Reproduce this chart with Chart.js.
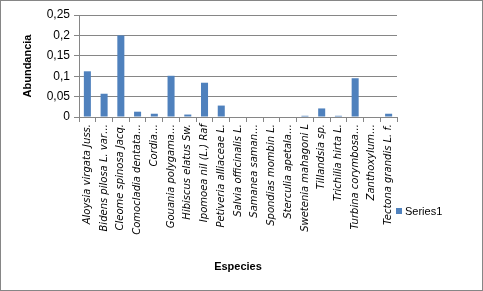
<!DOCTYPE html>
<html>
<head>
<meta charset="utf-8">
<script src="https://cdn.jsdelivr.net/npm/chart.js@4/dist/chart.umd.min.js"></script>
<style>
  html, body { margin: 0; padding: 0; background: #fff; }
  #wrap { width: 483px; height: 291px; position: relative; }
</style>
</head>
<body>
<div id="wrap"><canvas id="chart" width="483" height="291"></canvas></div>
<script>
const species = [
  "Aloysia virgata Juss.", "Bidens pilosa L. var…", "Cleome spinosa Jacq.",
  "Comocladia dentata…", "Cordia…", "Gouania polygama…", "Hibiscus elatus Sw.",
  "Ipomoea nil (L.) Raf", "Petiveria alliaceae L.", "Salvia officinalis L.",
  "Samanea saman…", "Spondias mombin L.", "Sterculia apetala…",
  "Swetenia mahagoni L", "Tillandsia sp.", "Trichilia hirta L.",
  "Turbina corymbosa…", "Zanthoxylum…", "Tectona grandis L. f."
];
const series1 = [
  0.112, 0.057, 0.2, 0.013, 0.008, 0.101, 0.006, 0.084, 0.028, 0,
  0, 0, 0, 0.003, 0.021, 0.003, 0.095, 0, 0.008
];
const yTicks = [0, 0.05, 0.1, 0.15, 0.2, 0.25];

const gray = "#868686";
const font = "'Liberation Sans', Arial, sans-serif";

// outer frame + legend on the right
const frame = {
  id: "frame",
  afterDraw(chart) {
    const c = chart.ctx;
    c.save();
    c.strokeStyle = gray;
    c.lineWidth = 1;
    c.strokeRect(0.5, 0.5, chart.width - 1, chart.height - 1);
    const ds = chart.data.datasets[0];
    c.fillStyle = ds.backgroundColor;
    c.fillRect(396, 208, 6, 6);
    c.fillStyle = "#000";
    c.font = "11px " + font;
    c.textBaseline = "middle";
    c.fillText(ds.label, 405, 211.5);
    c.restore();
  }
};

new Chart(document.getElementById("chart"), {
  type: "bar",
  data: {
    labels: species,
    datasets: [{
      label: "Series1",
      data: series1,
      backgroundColor: "#4F81BD",
      categoryPercentage: 0.84,
      barPercentage: 0.5
    }]
  },
  options: {
    responsive: false,
    animation: false,
    layout: { padding: { left: 15, right: 86, top: 15, bottom: 13 } },
    plugins: { legend: { display: false }, tooltip: { enabled: false } },
    scales: {
      x: {
        afterFit(axis) { axis.height = 161; },
        border: { color: gray },
        grid: { drawOnChartArea: false, drawTicks: true, tickLength: 5, color: gray, offset: true },
        ticks: {
          minRotation: 90, maxRotation: 90, autoSkip: false, padding: 2,
          color: "#000", font: { family: "'DejaVu Sans', sans-serif", size: 10, style: "italic" }
        },
        title: {
          display: true, text: "Especies", color: "#000",
          font: { family: font, size: 11, weight: "bold" }, padding: { top: 6 }
        }
      },
      y: {
        min: 0, max: 0.25,
        afterFit(axis) { axis.width = 64; },
        afterBuildTicks(axis) { axis.ticks = yTicks.map(v => ({ value: v })); },
        border: { color: gray },
        grid: { color: gray, tickLength: 5 },
        ticks: {
          color: "#000", padding: 4,
          font: { family: font, size: 12 },
          callback: v => String(v).replace(".", ",")
        },
        title: {
          display: true, text: "Abundancia", color: "#000",
          font: { family: font, size: 11, weight: "bold" }, padding: { top: 6, bottom: 6 }
        }
      }
    }
  },
  plugins: [frame]
});
</script>
</body>
</html>
